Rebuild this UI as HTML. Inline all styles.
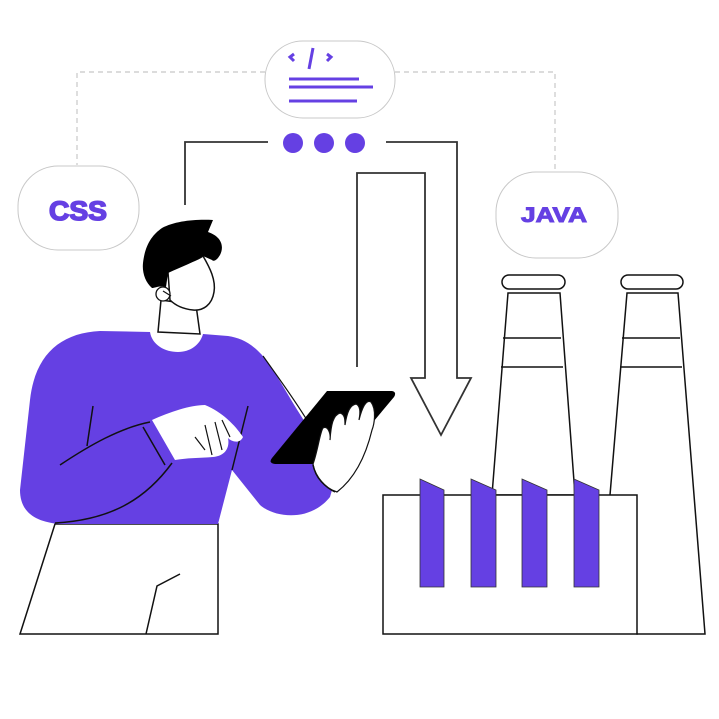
<!DOCTYPE html>
<html><head><style>html,body{margin:0;padding:0;background:#fff}svg{display:block}</style></head>
<body>
<svg width="719" height="719" viewBox="0 0 719 719" xmlns="http://www.w3.org/2000/svg" font-family="Liberation Sans, sans-serif">
<rect width="719" height="719" fill="#fff"/>
<path d="M265,72 H77 V165 M395,72 H555 V172" fill="none" stroke="#c8c8c8" stroke-width="1.2" stroke-dasharray="5,4"/>
<rect x="265" y="41" width="130" height="77" rx="38" fill="#fff" stroke="#c8c8c8"/>
<rect x="18" y="166" width="121" height="84" rx="40" fill="#fff" stroke="#c8c8c8"/>
<rect x="496" y="172" width="122" height="86" rx="40" fill="#fff" stroke="#c8c8c8"/>
<text x="78" y="220" text-anchor="middle" font-size="27" font-weight="900" fill="#6540e3" stroke="#6540e3" stroke-width="1.6" textLength="58" lengthAdjust="spacingAndGlyphs">CSS</text>
<text x="554" y="222" text-anchor="middle" font-size="21" font-weight="900" fill="#6540e3" stroke="#6540e3" stroke-width="1" textLength="66" lengthAdjust="spacingAndGlyphs">JAVA</text>
<g stroke="#6540e3" stroke-width="3" fill="none">
<path d="M294,54 L290,57 L294,61 M327,54 L331,57 L327,61 M313,48 L309,69"/>
<path d="M289,79 H359 M289,87 H373 M289,101 H357"/>
</g>
<g fill="#6540e3"><circle cx="293" cy="143" r="10"/><circle cx="324" cy="143" r="10"/><circle cx="355" cy="143" r="10"/></g>
<path d="M268,142 H185 V205 M386,142 H457 V378 H471 L441,435 L411,378 H425 V173 H357 V367" fill="none" stroke="#333" stroke-width="1.8"/>
<g fill="#fff" stroke="#111" stroke-width="1.5">
<path d="M627,293 H678 L705,634 H637 L610,495 Z"/>
<rect x="621" y="275" width="62" height="14" rx="7"/>
<path d="M508,293 H560 L575,495 H492 Z"/>
<rect x="502" y="275" width="63" height="14" rx="7"/>
<path d="M503,338 H561 M501,367 H563 M622,338 H680 M620,367 H682" fill="none"/>
<rect x="383" y="495" width="254" height="139"/>
</g>
<g fill="#6540e3" stroke="#333" stroke-width="0.8">
<path d="M420,479 L444,490 V587 H420 Z"/>
<path d="M471,479 L496,490 V587 H471 Z"/>
<path d="M522,479 L547,490 V587 H522 Z"/>
<path d="M574,479 L599,490 V587 H574 Z"/>
</g>
<path d="M55,524 H218 V634 H20 Z" fill="#fff" stroke="#111" stroke-width="1.5"/>
<path d="M146,634 L157,586 L180,574" fill="none" stroke="#111" stroke-width="1.5"/>
<path d="M161,300 L158,332 L200,334 L196,305 Z" fill="#fff" stroke="#111" stroke-width="1.5"/>
<path d="M150,332 L100,331 C60,333 35,355 30,400 L20,490 C20,512 35,522 60,524 L218,524 L232,470 L260,505 C275,518 310,522 330,497 L335,480 L318,470 L307,425 C290,400 275,370 262,355 C250,342 240,338 228,336 L203,334 C200,345 190,352 178,352 C165,352 152,345 150,332 Z" fill="#6540e3"/>
<path d="M263,356 C280,380 295,400 310,425" fill="none" stroke="#111" stroke-width="1.2"/>
<g fill="none" stroke="#111" stroke-width="1.5">
<path d="M93,406 L87,446"/>
<path d="M60,465 C90,445 120,428 150,422"/>
<path d="M55,523 C110,520 145,500 172,463"/>
<path d="M248,406 L232,470"/>
<path d="M143,427 L165,465"/>
</g>
<path d="M152,420 C170,412 190,405 205,405 C222,412 235,425 243,437 C240,444 232,442 228,438 C230,448 225,456 213,457 C200,458 186,458 175,460 Z" fill="#fff"/>
<g fill="none" stroke="#111" stroke-width="1.2"><path d="M195,437 L205,450 M205,425 L212,455 M215,422 L222,450 M222,420 L230,437"/></g>
<path d="M327,391 H392 Q397,392 394,397 L338,464 H275 Q268,463 272,458 Z" fill="#000"/>
<path d="M313,464 C318,450 320,432 323,428 C328,425 331,434 330,440 C331,425 333,415 340,413 C345,414 345,420 345,425 C347,412 350,405 356,404 C361,406 360,415 359,420 C362,408 366,399 371,402 C377,410 374,425 372,430 C366,455 355,478 337,492 C325,488 315,478 313,464 Z" fill="#fff" stroke="#111" stroke-width="1.2"/>
<path d="M313,465 C316,478 325,487 335,492" fill="none" stroke="#111" stroke-width="1.5"/>
<!-- head -->
<path d="M168,272 C185,262 195,262 203,256 C210,268 216,280 214,292 C212,305 203,311 193,310 C183,309 175,305 170,300 Z" fill="#fff" stroke="#111" stroke-width="1.5"/>
<circle cx="163" cy="294" r="7" fill="#fff" stroke="#111" stroke-width="1.3"/>
<path d="M163,291 L171,296" stroke="#111" stroke-width="1.2"/>
<path d="M213,220 L208,232 C220,236 225,245 220,255 C217,260 214,262 212,260 L203,256 C195,262 183,266 168,273 L166,287 C160,285 155,288 152,288 C145,282 142,272 143,263 C145,245 152,235 162,228 C175,221 195,219 213,220 Z" fill="#000"/>
</svg>
</body></html>
